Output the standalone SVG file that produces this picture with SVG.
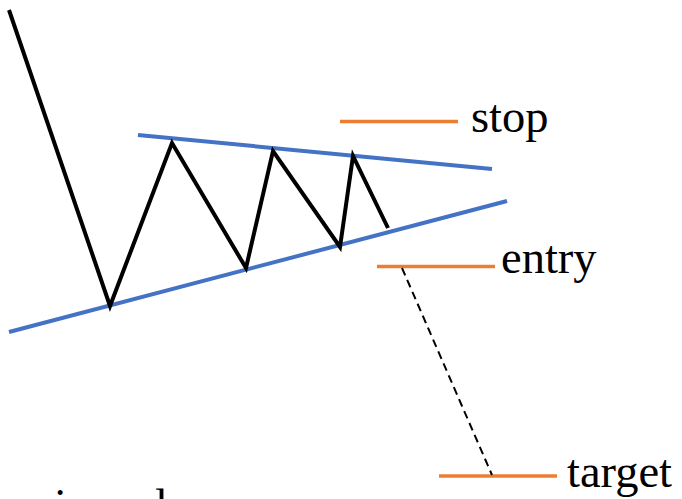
<svg xmlns="http://www.w3.org/2000/svg" width="682" height="499" viewBox="0 0 682 499">
<style>
.blue{stroke:#4472C4;stroke-width:4;fill:none;stroke-linecap:butt}
.price{stroke:#000;stroke-width:4;fill:none;stroke-linejoin:miter}
.lvl{stroke:#ED7D31;stroke-width:3.5;fill:none}
.dash{stroke:#000;stroke-width:2;fill:none;stroke-dasharray:8 5}
.lbl{font-family:'Liberation Serif','Times New Roman',Times,serif;font-size:46.5px;fill:#000}
</style>
<rect width="682" height="499" fill="#fff"/>
<g id="trendlines">
<line class="blue" x1="138" y1="135" x2="492" y2="169"/>
<line class="blue" x1="9" y1="332" x2="507" y2="201"/>
</g>
<g id="price">
<polyline class="price" points="9,10 110,306 172,143 246,268 273,151 340,247 353,156 388,228"/>
</g>
<g id="stop">
<line class="lvl" x1="340" y1="121.5" x2="458" y2="121.5"/>
<text class="lbl" x="471" y="132">stop</text>
</g>
<g id="entry">
<line class="lvl" x1="377" y1="266.5" x2="495" y2="266.5"/>
<text class="lbl" x="501" y="273">entry</text>
</g>
<g id="target">
<line class="lvl" x1="439" y1="476" x2="557" y2="476"/>
<text class="lbl" x="567" y="487">target</text>
</g>
<g id="connectors">
<line class="dash" x1="402" y1="268" x2="492" y2="475"/>
</g>
<g id="caption">
<text class="lbl" x="54" y="521">i</text>
<text class="lbl" x="155" y="521">l</text>
</g>
</svg>
